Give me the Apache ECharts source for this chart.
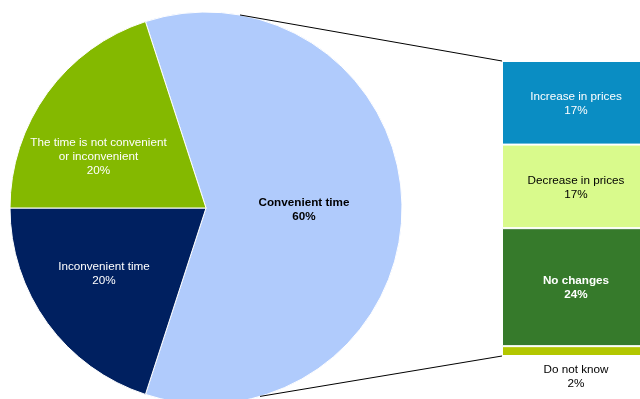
<!DOCTYPE html>
<html>
<head>
<meta charset="utf-8">
<style>
  html, body { margin: 0; padding: 0; background: #fff; }
  #chart { width: 640px; height: 399px; }
</style>
<script src="https://cdn.jsdelivr.net/npm/echarts@6/dist/echarts.min.js"></script>
</head>
<body>
<div id="chart"></div>
<script>
// Main pie: how convenient the time is
const pieNames = ['Convenient time', 'Inconvenient time', 'The time is not convenient\nor inconvenient'];
const pieValues = [60, 20, 20];
const pieColors = ['#b0cbfc', '#002060', '#84b900'];

// Breakdown of "Convenient time", stacked bottom to top
const barNames = ['Do not know', 'No changes', 'Decrease in prices', 'Increase in prices'];
const barValues = [2, 24, 17, 17];
const barColors = ['#b3c700', '#367a2b', '#d9fa8c', '#0a8dc3'];
const barTextColors = ['#000', '#fff', '#000', '#fff'];
const barBold = [false, true, false, false];

const FONT = 'Liberation Sans, Arial, sans-serif';
const FONT_SIZE = 11.7;
const PIE_CENTER = [206, 208];
const PIE_RADIUS = 196;
const GRID = { left: 502, top: 61, width: 148, height: 295 };

const chart = echarts.init(document.getElementById('chart'));

// slice label anchors in polar form: [distance from centre, angle in degrees]
const pieLabelPolar = [[98, -0.8], [121.5, 212.9], [119, 154.6]];

const option = {
  animation: false,
  backgroundColor: '#fff',
  grid: {
    left: GRID.left, top: GRID.top, width: GRID.width, height: GRID.height,
    outerBoundsMode: 'none'
  },
  xAxis: { type: 'category', data: ['Convenient time'], show: false },
  yAxis: { type: 'value', min: 0, max: 60, show: false },
  series: [
    {
      type: 'pie',
      center: PIE_CENTER,
      radius: PIE_RADIUS,
      startAngle: 108,
      clockwise: true,
      silent: true,
      itemStyle: { borderColor: '#fff', borderWidth: 1 },
      label: {
        position: 'inside',
        align: 'center',
        verticalAlign: 'middle',
        fontFamily: FONT,
        fontSize: FONT_SIZE,
        lineHeight: 14,
        color: '#fff',
        formatter: p => p.name + '\n' + p.value + '%'
      },
      labelLayout: p => {
        const [r, deg] = pieLabelPolar[p.dataIndex];
        const a = deg * Math.PI / 180;
        return {
          x: PIE_CENTER[0] + r * Math.cos(a),
          y: PIE_CENTER[1] - r * Math.sin(a),
          align: 'center',
          verticalAlign: 'middle'
        };
      },
      labelLine: { show: false },
      data: pieNames.map((n, i) => ({
        name: n,
        value: pieValues[i],
        itemStyle: { color: pieColors[i] },
        label: i === 0 ? { color: '#000', fontWeight: 'bold' } : {}
      }))
    }
  ].concat(barNames.map((n, i) => ({
    type: 'bar',
    name: n,
    stack: 'breakdown',
    barWidth: '100%',
    silent: true,
    itemStyle: { color: barColors[i], borderColor: '#fff', borderWidth: 1 },
    label: {
      show: true,
      position: i === 0 ? 'bottom' : 'inside',
      distance: 6,
      offset: [0, 1],
      fontFamily: FONT,
      fontSize: FONT_SIZE,
      lineHeight: 14,
      color: barTextColors[i],
      fontWeight: barBold[i] ? 'bold' : 'normal',
      formatter: p => n + '\n' + p.value + '%'
    },
    data: [barValues[i]]
  })))
};

chart.setOption(option);

// Connector lines from the edge of the "Convenient time" slice to the breakdown bar
const total = barValues.reduce((a, b) => a + b, 0);
const yTop = chart.convertToPixel({ yAxisIndex: 0 }, total);
const yBottom = chart.convertToPixel({ yAxisIndex: 0 }, 0);
function piePoint(deg) {
  const r = deg * Math.PI / 180;
  return [PIE_CENTER[0] + PIE_RADIUS * Math.cos(r), PIE_CENTER[1] - PIE_RADIUS * Math.sin(r)];
}
const pTop = piePoint(80);
const pBottom = piePoint(-74);
chart.setOption({
  graphic: [
    { type: 'line', shape: { x1: pTop[0], y1: pTop[1], x2: GRID.left, y2: yTop }, style: { stroke: '#000', lineWidth: 1 }, z: 10 },
    { type: 'line', shape: { x1: pBottom[0], y1: pBottom[1], x2: GRID.left, y2: yBottom }, style: { stroke: '#000', lineWidth: 1 }, z: 10 }
  ]
});
</script>
</body>
</html>
